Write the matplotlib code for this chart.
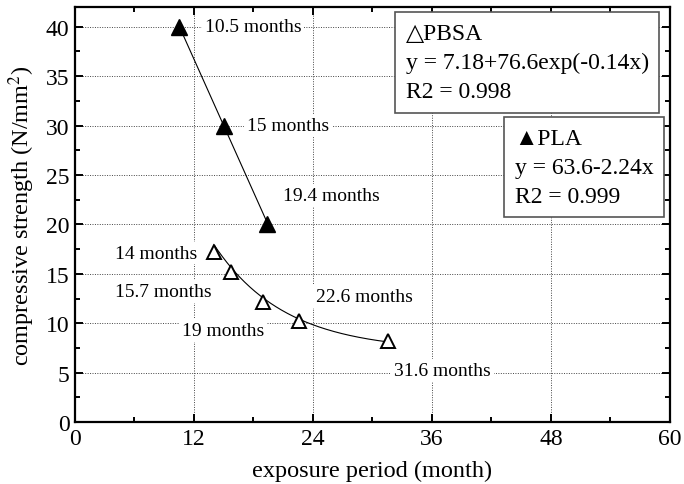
import numpy as np
import matplotlib
matplotlib.use("Agg")
import matplotlib.pyplot as plt
from matplotlib.ticker import MultipleLocator

plt.rcParams['font.family'] = ['Liberation Serif', 'DejaVu Sans']
plt.rcParams['mathtext.fontset'] = 'stix'

# exposure period (month) / compressive strength (N/mm2)
pla_months = [10.5, 15.0, 19.4]
pla_strength = [40.0, 30.0, 20.0]
pbsa_months = [14.0, 15.7, 19.0, 22.6, 31.6]
pbsa_strength = [17.2, 15.2, 12.1, 10.2, 8.2]

# fitted curves
pla_a, pla_b = 63.6, -2.24
pbsa_c, pbsa_a, pbsa_k = 7.18, 76.6, -0.14

# where each "xx months" note sits (x, y in data units)
pla_label_pos = [(13.1, 40.0), (17.3, 30.0), (21.0, 22.9)]
pbsa_label_pos = [(4.0, 17.1), (4.0, 13.2), (10.8, 9.3), (24.3, 12.7), (32.2, 5.2)]

fig = plt.figure(figsize=(6.84, 4.85), dpi=100)
ax = fig.add_axes([0.1096, 0.1278, 0.8699, 0.8557])

# PLA: straight-line fit
xs = np.linspace(min(pla_months), max(pla_months), 50)
ax.plot(xs, pla_a + pla_b * xs, color='black', lw=0.8, zorder=3)
ax.plot(pla_months, pla_strength, ls='none', marker='^', ms=11,
        mfc='black', mec='black', zorder=4)

# PBSA: exponential decay fit
xs = np.linspace(min(pbsa_months), max(pbsa_months), 200)
ax.plot(xs, pbsa_c + pbsa_a * np.exp(pbsa_k * xs), color='black', lw=0.8, zorder=3)
ax.plot(pbsa_months, pbsa_strength, ls='none', marker='^', ms=10,
        mfc='white', mec='black', mew=1.4, zorder=4)

note_box = dict(boxstyle='square,pad=0.15', fc='white', ec='none')
for m, (tx, ty) in zip(pla_months + pbsa_months, pla_label_pos + pbsa_label_pos):
    ax.text(tx, ty, f"{m:g} months", fontsize=14, ha='left', va='center',
            bbox=note_box, zorder=2)

ax.set_xlim(0, 60)
ax.set_ylim(0, 42)
ax.xaxis.set_major_locator(MultipleLocator(12))
ax.xaxis.set_minor_locator(MultipleLocator(6))
ax.yaxis.set_major_locator(MultipleLocator(5))
ax.yaxis.set_minor_locator(MultipleLocator(2.5))
ax.tick_params(which='both', direction='in', top=True, right=True,
               width=1.4, labelsize=17)
ax.tick_params(which='major', length=6, pad=4)
ax.tick_params(which='minor', length=3.5)
for s in ax.spines.values():
    s.set_linewidth(1.6)

ax.grid(True, which='major', ls=(0, (1, 1.5)), color='#444444', lw=0.7, zorder=0)
ax.set_axisbelow(True)

ax.set_xlabel('exposure period (month)', fontsize=17.5, labelpad=8)
ax.set_ylabel('compressive strength (N/mm$^2$)', fontsize=17.5, labelpad=6)

fit_box = dict(boxstyle='square,pad=0.45', fc='white', ec='#555555', lw=1.2)
ax.text(0.5556, 0.962,
        "△PBSA\ny = 7.18+76.6exp(-0.14x)\nR2 = 0.998",
        transform=ax.transAxes, fontsize=17, ha='left', va='top',
        linespacing=1.5, bbox=fit_box, zorder=5)
ax.text(0.739, 0.709,
        "▲PLA\ny = 63.6-2.24x\nR2 = 0.999",
        transform=ax.transAxes, fontsize=17, ha='left', va='top',
        linespacing=1.5, bbox=fit_box, zorder=5)

fig.savefig('out.png', dpi=100)
